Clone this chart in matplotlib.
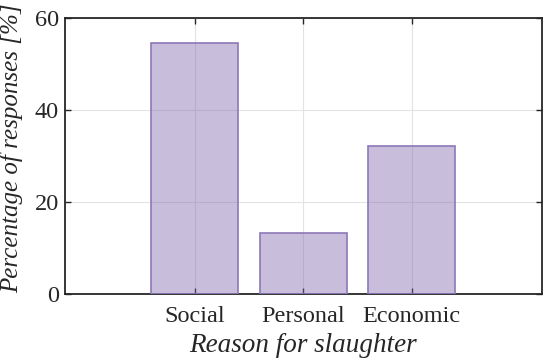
import numpy as np
from matplotlib import pyplot as plt

categories = ['Social', 'Personal', 'Economic']
responses = [54.6, 13.2, 32.2]

plt.rcParams['font.family'] = ['Liberation Serif', 'DejaVu Serif']

fig = plt.figure(figsize=(5.44, 3.61), dpi=100)
ax = fig.add_axes([0.1186, 0.1856, 0.8777, 0.7644])

pos = np.arange(1, len(categories) + 1)
ax.bar(pos, responses, width=0.8, color=(0.49, 0.40, 0.67, 0.42),
       edgecolor=(0.55, 0.47, 0.72), linewidth=1.2, zorder=3)

ax.set_xlim(-0.2, 4.2)
ax.set_ylim(0, 60)
ax.set_xticks(pos)
ax.set_xticklabels(categories)
ax.set_yticks([0, 20, 40, 60])

ax.grid(True, color='#e3e3e3', linewidth=0.8, zorder=0)
ax.set_axisbelow(True)
for s in ax.spines.values():
    s.set_color('#262626')
    s.set_linewidth(1.3)
ax.tick_params(direction='in', top=True, right=True, length=4, width=1,
               colors='#262626', labelsize=17.5, pad=4)
ax.tick_params(axis='x', pad=9)

ax.set_xlabel('Reason for slaughter', fontsize=19.5, style='italic', color='#262626')
ax.set_ylabel('Percentage of responses [%]', fontsize=18, style='italic', color='#262626')
ax.xaxis.set_label_coords(0.5, -0.185, transform=ax.transAxes)
ax.yaxis.set_label_coords(-0.11, 0.528, transform=ax.transAxes)
ax.xaxis.label.set_va('center')
ax.yaxis.label.set_va('center')

fig.savefig('out.png', dpi=100)
